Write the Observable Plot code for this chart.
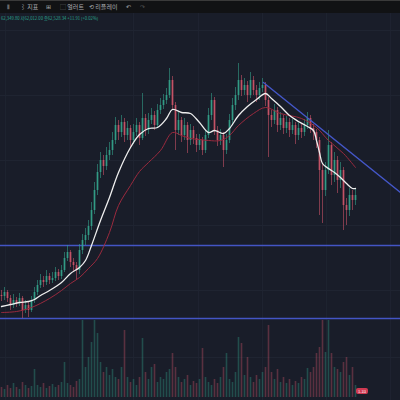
<!DOCTYPE html>
<html><head><meta charset="utf-8">
<script src="https://cdn.jsdelivr.net/npm/d3@7"></script>
<script src="https://cdn.jsdelivr.net/npm/@observablehq/plot@0.6"></script>
<style>
html,body{margin:0;padding:0;background:#191d29;overflow:hidden;}
#wrap{position:relative;width:400px;height:400px;background:#191d29;font-family:"Noto Sans CJK KR","Noto Sans",sans-serif;}
#bar{position:absolute;left:0;top:0;width:400px;height:13px;background:#111214;border-top:1px solid #3a3a3a;box-sizing:border-box;color:#a9abb0;font-size:6px;line-height:12px;white-space:nowrap;}
#bar span{position:absolute;top:0;}
#legend{position:absolute;left:1px;top:15px;color:#2aa58f;font-size:4.2px;white-space:nowrap;font-family:"Noto Sans CJK KR",sans-serif;}
#price{position:absolute;left:0;top:13px;}
#vol{position:absolute;left:0;top:320px;}
#vlabel{position:absolute;left:356px;top:388px;width:12px;height:6px;background:#cf3a52;border-radius:2px;color:#fff;font-size:4px;line-height:6px;text-align:center;}
</style></head>
<body><div id="wrap">
<div id="bar"><span style="left:7px">⦀</span><span style="left:20px">⌇ 지표</span><span style="left:46px">⊞</span><span style="left:60px">⬚ 얼러트</span><span style="left:89px">⟲ 리플레이</span><span style="left:126px">↶</span><span style="left:140px;color:#555">↷</span></div>
<div id="price"></div>
<div id="vol"></div>
<div id="legend">62,349.80 저62,012.00 종62,528.34 +11.91 (+0.02%)</div>
<div id="vlabel">1.33</div>
</div>
<script>
const firstOpen = 52.5;
const closes = [52.4,52.8,52.2,51.5,52.0,51.7,52.2,51.0,51.5,51.0,52.0,52.8,53.5,54.0,53.8,54.4,54.0,54.2,54.8,54.4,
55.0,56.2,56.8,55.8,55.5,55.0,57.0,58.0,58.5,59.4,61.0,63.0,64.8,66.0,65.4,66.5,67.0,68.0,69.5,68.8,
69.8,68.5,69.2,68.0,68.8,69.5,68.2,70.2,69.0,70.0,70.5,69.5,71.0,71.5,72.0,72.5,74.0,71.5,69.0,70.0,
68.5,69.5,68.0,69.0,68.2,67.5,68.0,67.0,68.5,70.5,72.0,69.0,68.0,68.5,67.0,68.0,70.0,71.5,72.5,74.0,
73.0,73.5,72.5,74.0,73.0,72.5,73.2,73.5,72.0,70.5,70.0,71.0,69.5,70.2,69.2,69.8,69.0,69.5,68.5,69.2,
68.8,69.5,70.2,69.2,68.8,68.0,65.0,63.0,65.0,67.5,64.5,66.0,64.0,65.0,61.5,61.0,62.5,62.0,62.5];
const highs = [53.0,53.3,53.0,52.5,52.6,52.3,52.7,52.4,52.0,51.8,52.4,53.3,54.0,54.6,54.4,55.0,54.7,54.8,55.3,55.1,
55.5,56.8,57.5,57.0,56.2,55.8,57.6,58.6,59.2,60.0,61.8,63.8,65.6,66.8,66.5,67.3,67.8,68.8,70.3,70.0,
70.5,70.2,69.9,69.5,69.6,70.2,69.8,72.7,70.6,70.7,71.2,70.9,71.6,72.2,72.6,73.2,75.2,74.4,71.8,70.8,
70.3,70.2,69.8,69.6,69.4,68.6,68.6,68.3,69.0,71.2,72.7,72.3,69.4,69.1,68.8,68.6,70.6,72.2,73.3,75.7,
74.5,74.2,73.9,74.8,74.4,73.5,73.8,74.2,73.8,72.3,71.0,71.6,71.3,70.8,70.5,70.4,70.2,70.1,69.8,69.8,
69.6,70.1,70.8,70.5,69.6,69.1,68.3,65.6,65.8,69.0,67.8,66.8,66.4,65.8,65.3,62.2,63.2,63.0,63.2];
const lows = [51.9,52.0,51.8,51.0,51.2,51.3,51.4,50.2,50.7,50.3,50.8,51.7,52.5,53.2,53.3,53.5,53.6,53.7,53.9,54.0,
54.1,54.8,55.9,55.3,54.8,54.0,54.6,56.6,57.5,58.0,59.0,60.6,62.5,64.2,64.5,65.0,66.0,66.5,67.6,68.0,
68.3,67.8,68.0,67.2,67.6,68.4,67.5,68.0,68.4,68.6,69.6,69.0,69.2,70.6,71.1,71.6,72.2,71.0,67.0,68.5,
67.8,68.0,66.7,67.5,67.6,66.8,67.0,66.5,66.7,68.2,70.0,68.5,67.4,67.5,65.3,66.6,67.7,69.6,71.0,72.0,
72.4,72.5,71.8,72.2,72.5,71.8,72.0,72.8,71.4,66.3,69.3,69.6,68.8,69.0,68.6,68.7,68.3,68.6,67.6,68.0,
68.2,68.4,69.1,68.7,68.0,67.2,60.5,59.7,62.4,64.6,63.5,63.8,62.7,63.2,59.0,59.5,60.4,61.0,61.5];
const volumes = [10,8,12,9,14,10,8,15,12,9,11,28,12,10,14,9,11,13,10,12,
15,35,14,12,10,16,18,77,30,40,55,77,64,35,25,30,22,28,20,18,
30,67,20,15,18,12,20,59,25,18,30,33,15,20,18,25,28,44,30,20,
15,18,22,12,16,14,18,49,20,15,12,18,14,20,30,44,18,15,25,60,
54,22,40,20,15,22,18,25,30,72,25,18,28,15,20,14,18,12,16,14,
20,18,29,25,30,44,50,77,45,77,44,30,28,25,35,40,22,30,12];
// moving averages: [candle index, value]
const maWhite = [[0,51.4],[3,51.6],[6,51.8],[9,51.9],[11,52.1],[13,52.5],[16,53.0],[20,53.8],[23,54.7],[26,55.3],
[28,56.0],[30,57.5],[33,60.0],[36,62.3],[39,64.8],[43,67.3],[46,68.6],[49,69.2],[52,69.3],[55,70.2],[57,71.1],
[60,70.8],[63,70.7],[66,69.8],[69,68.8],[71,69.0],[74,68.7],[76,69.2],[79,70.5],[82,71.4],[85,72.1],[88,72.7],
[90,72.2],[93,71.4],[96,70.5],[99,69.9],[102,69.4],[104,69.0],[105,68.0],[106,66.8],[107,65.7],[109,65.2],
[111,64.8],[113,64.3],[115,63.7],[117,63.2],[118,63.2]];
const maRed = [[0,50.8],[5,50.9],[10,51.3],[16,52.2],[20,53.0],[23,53.7],[26,54.3],[29,55.2],[32,56.2],[36,58.8],
[39,61.5],[43,63.5],[46,64.9],[49,65.8],[53,67.0],[57,68.8],[60,68.5],[63,68.2],[66,68.1],[69,68.0],[73,68.0],
[76,68.5],[79,69.5],[84,70.7],[88,71.3],[93,70.7],[100,70.2],[105,69.3],[109,68.0],[114,66.7],[118,65.3]];
const trendLine = [[87.3,73.8],[133,62.8]];
const levels = [57.5, 50.2];
const gridX = [1.3, 22.7, 44, 65.7, 87, 108.3, 129.7];
const gridY = [79.0, 72.5, 66.0, 59.5, 53.0, 46.3];

const UP = "#35a88f", DOWN = "#d5576c";
const candles = closes.map((c, i) => {
  const o = i ? closes[i - 1] : firstOpen;
  return {i, o, c, h: highs[i], l: lows[i], v: volumes[i], up: c >= o};
});
const xDom = [-0.333, 133];

const price = Plot.plot({
  width: 400, height: 387, margin: 0,
  style: {background: "transparent", overflow: "visible"},
  x: {domain: xDom, axis: null},
  y: {domain: [42.0, 80.7], axis: null},
  marks: [
    Plot.ruleX(gridX, {stroke: "#1f2431", strokeWidth: 1}),
    Plot.ruleY(gridY, {stroke: "#1f2431", strokeWidth: 1}),
    Plot.ruleY(levels, {stroke: "#4355c4", strokeWidth: 1.5}),
    Plot.ruleX(candles, {x: "i", y1: "l", y2: "h", stroke: d => d.up ? UP : DOWN, strokeWidth: 0.7, strokeOpacity: 0.8}),
    Plot.ruleX(candles, {x: "i", y1: "o", y2: "c", stroke: d => d.up ? UP : DOWN, strokeWidth: 1.8, strokeOpacity: 0.8}),
    Plot.line(maRed, {x: d => d[0], y: d => d[1], stroke: "#9a2a3e", strokeWidth: 1, curve: "catmull-rom"}),
    Plot.line(maWhite, {x: d => d[0], y: d => d[1], stroke: "#eeeeee", strokeWidth: 1.3, curve: "catmull-rom"}),
    Plot.line(trendLine, {x: d => d[0], y: d => d[1], stroke: "#4457c8", strokeWidth: 1.4})
  ]
});
document.getElementById("price").appendChild(price);

const vol = Plot.plot({
  width: 400, height: 77, margin: 0,
  style: {background: "transparent"},
  x: {domain: xDom, axis: null},
  y: {domain: [0, 77], axis: null},
  marks: [
    Plot.ruleX(candles, {x: "i", y1: 0, y2: "v", stroke: d => d.up ? UP : DOWN, strokeWidth: 1.6, strokeOpacity: 0.35})
  ]
});
document.getElementById("vol").appendChild(vol);
</script>
</body></html>
